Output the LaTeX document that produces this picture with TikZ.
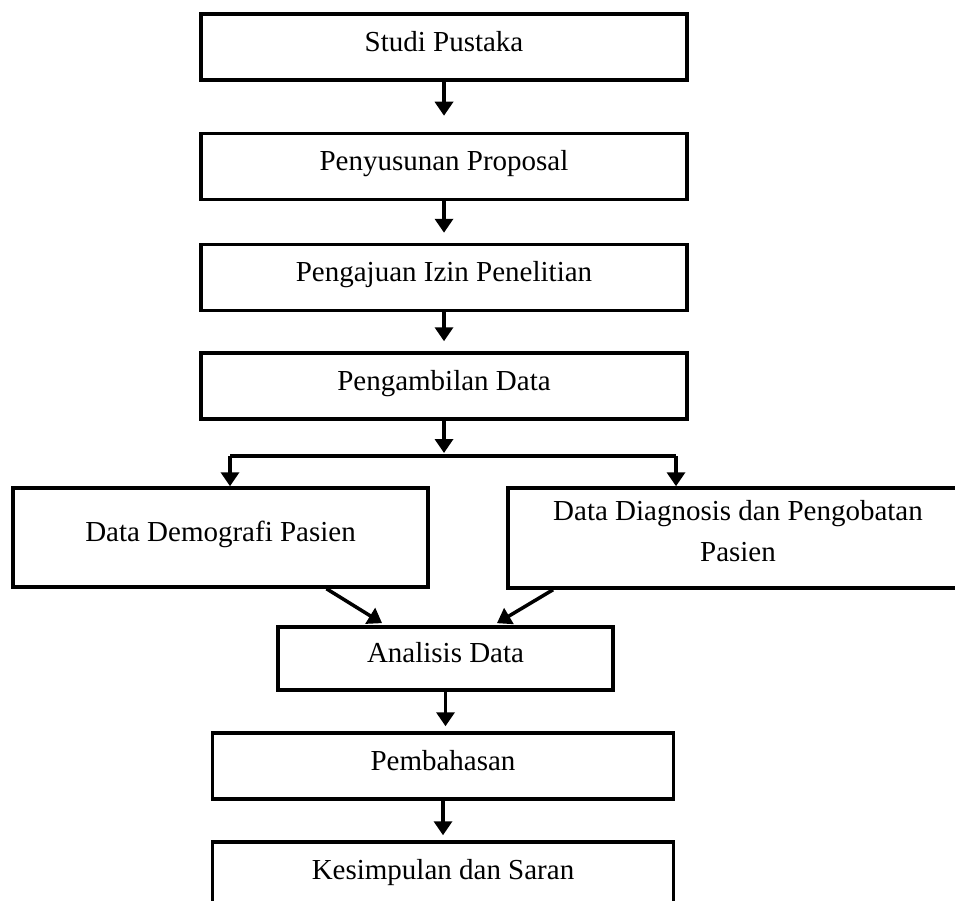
\documentclass[tikz,border=0pt]{standalone}
\usepackage{fontspec}
\setmainfont{Liberation Serif}
\usepackage{tikz}
\usetikzlibrary{positioning,calc,arrows.meta}
\tikzset{
kotak/.style={draw, line width=2pt, rectangle, minimum width=9.72cm, minimum height=1.32cm,
              text height=0.68em, text depth=0.22em},
panah/.style={-{Triangle[width=0.36cm,length=0.28cm]}, line width=2pt},
garis/.style={line width=2pt}}
\tikzstyle{every node}=[font=\fontsize{16.5}{23.8}\selectfont]

\begin{document}
\begin{tikzpicture}[x=0.02cm, y=-0.02cm]
        \useasboundingbox (0,0) rectangle (955,901);
        \clip (0,0) rectangle (955,901);
        \node[kotak] (studi) at (444,47) {Studi Pustaka};
        \node[kotak] (proposal) at (444,166.5) {Penyusunan Proposal};
        \node[kotak] (izin) at (444,277.5) {Pengajuan Izin Penelitian};
        \node[kotak] (ambil) at (444,386) {Pengambilan Data};
        \node[kotak, minimum width=8.3cm, minimum height=1.98cm] (demografi) at (220.5,537.5) {Data Demografi Pasien};
        \node[draw, line width=2pt, minimum width=9.2cm, minimum height=2cm] (diagnosis) at (738,538) {};
        \node[align=center] (diagteks) at (738,531) {Data Diagnosis dan Pengobatan\\Pasien};
        \node[kotak, minimum width=6.7cm, minimum height=1.26cm] (analisis) at (445.5,658.5) {Analisis Data};
        \node[kotak, minimum width=9.22cm] (bahas) at (443,766) {Pembahasan};
        \node[kotak, minimum width=9.22cm] (simpul) at (443,875) {Kesimpulan dan Saran};
        \coordinate (cabang) at (446,456);
        \coordinate (kiri) at (230,456);
        \coordinate (kanan) at (676,456);
        \draw[panah, shorten >=0.32cm] (studi.south) -- (studi.south |- proposal.north);
        \draw[panah, shorten >=0.2cm] (proposal.south) -- (proposal.south |- izin.north);
        \draw[panah, shorten >=0.2cm] (izin.south) -- (izin.south |- ambil.north);
        \draw[panah, shorten >=0.06cm] (ambil.south) -- (ambil.south |- cabang);
        \draw[garis] (kiri) -- (kanan);
        \draw[panah] (kiri) -- (kiri |- demografi.north);
        \draw[panah] (kanan) -- (kanan |- diagnosis.north);
        \draw[panah, shorten >=0.08cm] ($(demografi.south)+(106,0)$) -- ($(analisis.north)+(-60,0)$);
        \draw[panah, shorten >=0.08cm] ($(diagnosis.south)+(-185,0)$) -- ($(analisis.north)+(48,0)$);
        \draw[panah, shorten >=0.1cm] (analisis.south) -- (analisis.south |- bahas.north);
        \draw[panah, shorten >=0.1cm] (bahas.south) -- (bahas.south |- simpul.north);
    \end{tikzpicture}
\end{document}
